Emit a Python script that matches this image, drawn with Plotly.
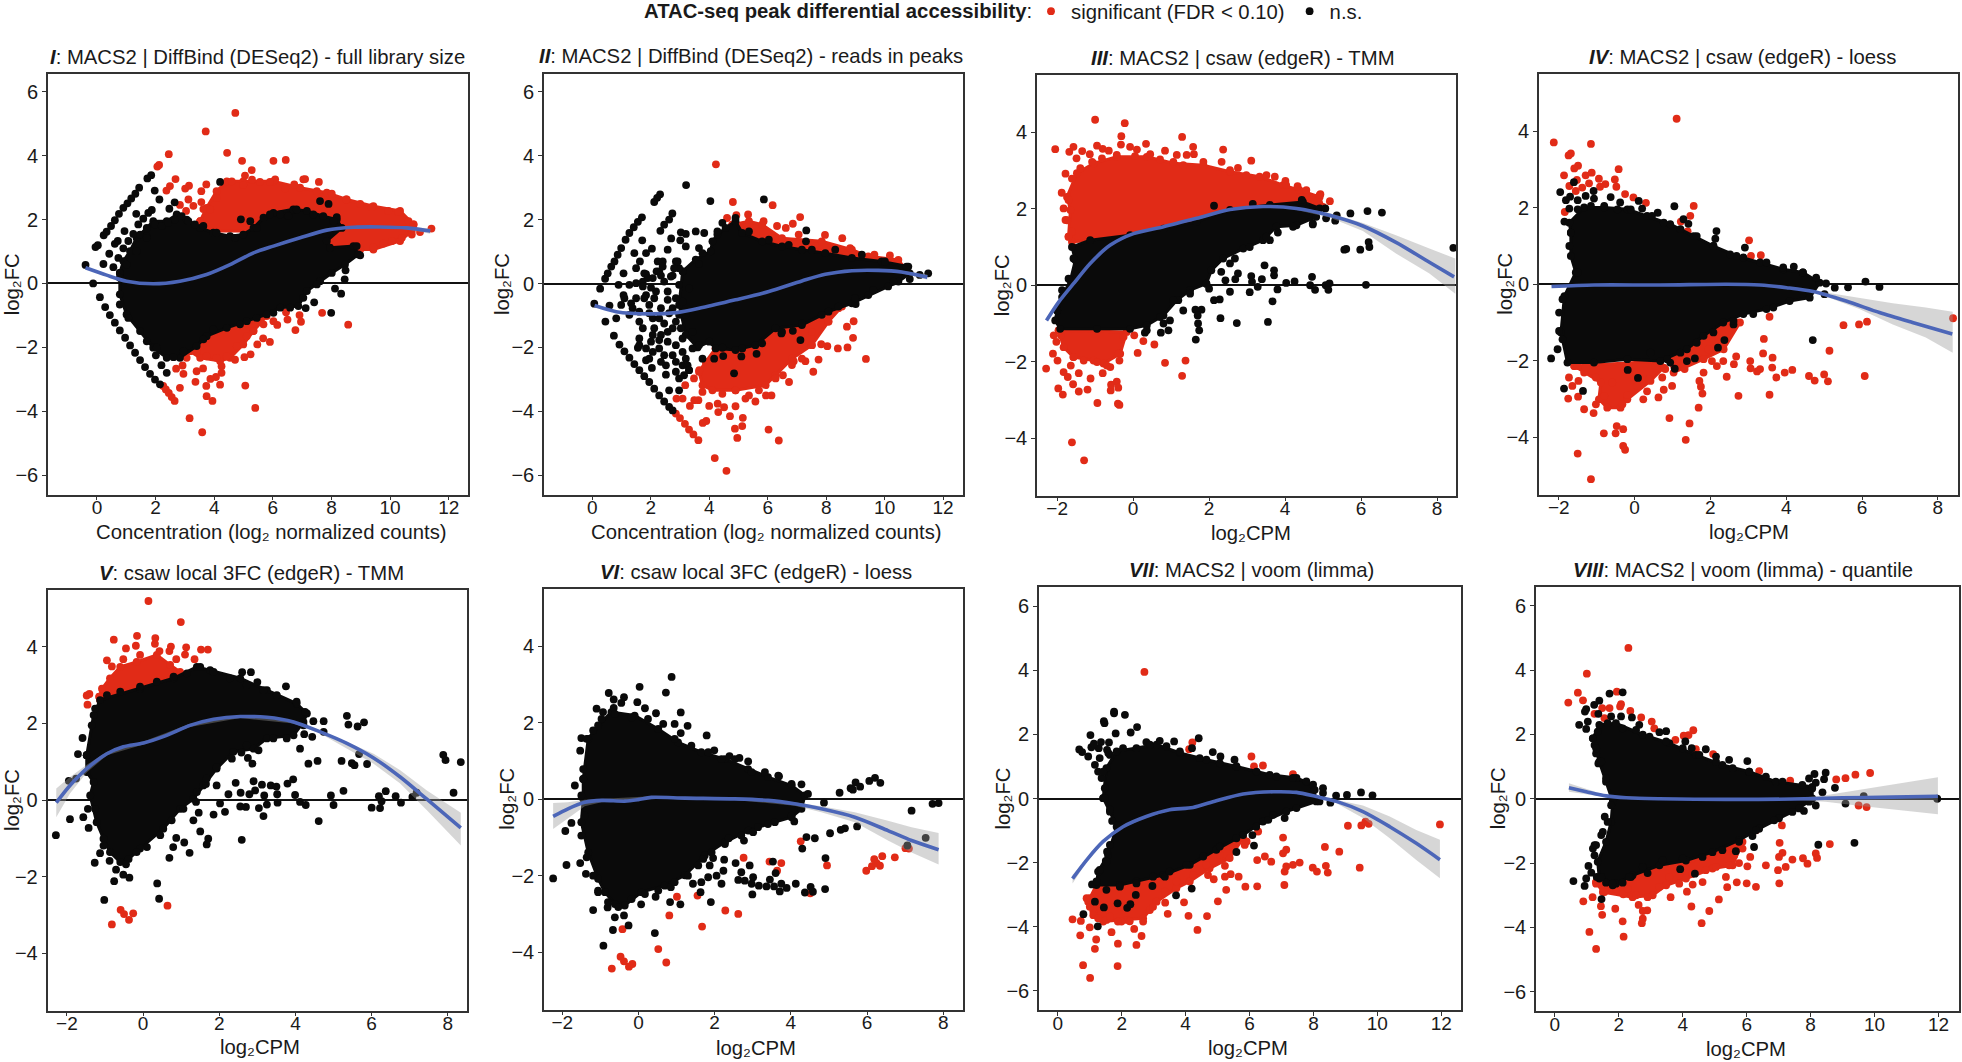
import plotly.graph_objects as go

RED = "#e12b17"
BLACK = "#0a0a0a"
BLUE = "#4c66b8"
DOT = 7.8

LEGEND_TITLE = "<b>ATAC-seq peak differential accessibility</b>:"
TITLES = ["<b><i>I</i></b>: MACS2 | DiffBind (DESeq2) - full library size",
          "<b><i>II</i></b>: MACS2 | DiffBind (DESeq2) - reads in peaks",
          "<b><i>III</i></b>: MACS2 | csaw (edgeR) - TMM",
          "<b><i>IV</i></b>: MACS2 | csaw (edgeR) - loess",
          "<b><i>V</i></b>: csaw local 3FC (edgeR) - TMM",
          "<b><i>VI</i></b>: csaw local 3FC (edgeR) - loess",
          "<b><i>VII</i></b>: MACS2 | voom (limma)",
          "<b><i>VIII</i></b>: MACS2 | voom (limma) - quantile"]
CONC = "Concentration (log₂ normalized counts)"
CPM = "log₂CPM"
YTITLE = "log₂FC"
XTITLES = [CONC, CONC, CPM, CPM, CPM, CPM, CPM, CPM]
X_TICKS_CONC = [0, 2, 4, 6, 8, 10, 12]
X_TICKS_CSAW = [-2, 0, 2, 4, 6, 8]
Y_TICKS_WIDE = [-6, -4, -2, 0, 2, 4, 6]
Y_TICKS_NARROW = [-4, -2, 0, 2, 4]
XRANGES = [(-1.67, 12.64), (-1.65, 12.68), (-2.53, 8.5), (-2.52, 8.53),
           (-2.51, 8.49), (-2.48, 8.52), (-0.59, 12.62), (-0.59, 12.64)]
YRANGES = [(-6.61, 6.56), (-6.6, 6.57), (-5.5, 5.5), (-5.5, 5.5),
           (-5.5, 5.5), (-5.5, 5.5), (-6.6, 6.6), (-6.6, 6.6)]
XTICKS = [X_TICKS_CONC, X_TICKS_CONC, X_TICKS_CSAW, X_TICKS_CSAW, X_TICKS_CSAW, X_TICKS_CSAW, X_TICKS_CONC, X_TICKS_CONC]
YTICKS = [Y_TICKS_WIDE, Y_TICKS_WIDE, Y_TICKS_NARROW, Y_TICKS_NARROW, Y_TICKS_NARROW, Y_TICKS_NARROW, Y_TICKS_WIDE, Y_TICKS_WIDE]

# ---------- Panel I ----------
P1_SIG = [(4.72,5.34),(3.71,4.76),(2.45,4.05),(4.44,4.09),(4.95,3.84),(6.02,3.84),(6.44,3.87),(2.12,3.71),(2.06,3.66),(5.28,3.55),(5.05,3.38),(2.68,3.27),(5.29,3.25),(6.08,3.26),(7.10,3.27),(7.57,3.18),(2.49,3.05),(2.37,2.91),(3.14,3.06),(3.01,2.97),(3.73,3.10),(3.56,2.89),(3.12,2.63),(3.56,2.55),(2.83,2.46),(3.29,2.43),(3.04,2.27),(3.63,2.33),
(8.57,-1.29),(7.68,-0.92),(6.91,-0.99),(6.45,-0.90),(6.96,-1.20),(6.50,-1.13),(6.77,-1.46),(6.15,-1.30),(5.90,-1.83),(5.67,-1.72),(5.47,-1.91),(5.24,-2.22),(5.03,-2.31),(4.71,-2.39),(3.06,-2.33),(2.92,-2.57),(2.70,-2.67),(2.95,-2.83),(3.40,-2.75),(3.62,-2.66),(4.25,-2.59),(4.25,-2.80),(4.06,-2.93),(3.87,-2.99),(3.36,-3.08),(4.20,-3.17),(3.73,-3.21),(5.06,-3.20),(2.83,-3.27),(3.74,-3.53),(3.94,-3.68),(5.40,-3.90),(3.16,-4.22),(3.59,-4.66),
(2.26,-3.21),(2.35,-3.32),(2.45,-3.43),(2.55,-3.56),(2.65,-3.68),
(11.41,1.72),(11.02,1.61),(10.74,1.53),(10.06,1.33),(9.77,1.25),
(4.60,3.20),(4.99,3.08),(5.56,3.18),(5.90,3.18),(6.42,2.97),(6.73,3.10),(7.04,3.26),(7.50,2.89),(8.01,2.81),(8.50,2.63),(8.98,2.49),(9.37,2.39),(9.94,2.27),(10.28,2.24),(10.63,1.95),(10.80,1.85),(10.40,1.43),(9.43,1.14),(4.08,2.68),(3.86,2.32),
(3.74,-2.28),(3.40,-2.12),(4.08,-2.33),(4.43,-2.28),(4.77,-1.96),(5.11,-1.65),(5.34,-1.49),(5.68,-1.28),(6.02,-1.18)]
P1_NS = [(-0.39,0.58),(-0.13,0.0),(-0.05,1.14),(0.03,1.20),(0.22,0.61),(0.23,1.51),(0.33,1.62),(0.42,0.93),(0.48,1.80),(0.61,1.98),(0.75,2.18),(0.90,2.37),(1.04,2.51),(1.17,2.66),(1.31,2.81),(1.44,3.00),(1.72,3.29),(1.85,3.39),(1.97,2.91),(2.13,2.63),(2.65,2.54),(4.20,3.18),(1.34,2.18),(0.94,1.64),(0.71,1.33),(0.61,1.24),
(0.56,0.51),(0.73,0.80),(0.90,1.10),(1.07,1.33),(1.24,1.55),(1.41,1.85),(1.58,2.03),(1.75,2.21),(1.87,2.30),
(0.10,-0.43),(0.28,-0.74),(0.44,-0.99),(0.61,-1.23),(0.78,-1.47),(0.96,-1.70),(1.13,-1.94),(1.30,-2.17),(1.47,-2.40),(1.64,-2.62),(1.81,-2.83),(1.98,-3.01),(2.15,-3.16),
(8.12,-0.16),(8.33,-0.32),(8.45,0.13),(8.48,0.41),(7.41,-0.59),(7.12,-0.77),(7.99,-0.92),(8.98,0.88),(8.86,1.17),(7.61,2.58),(7.90,2.49),(8.18,2.08),(4.91,2.01),(5.23,1.95),(2.38,-2.80),(2.20,-2.56),(2.01,-2.25),(2.47,2.34),
(1.47,1.53),(1.70,1.48),(1.98,1.85),(2.21,1.80),(2.43,1.90),(2.66,2.00),(2.89,2.11),(3.12,1.95),(3.34,1.85),(3.63,1.80),(4.08,1.59),(4.71,1.43),(5.45,1.74),(5.90,2.16),(6.25,2.16),(6.53,2.11),(6.81,2.32),(7.38,2.16),(8.07,1.95),
(1.70,-1.81),(2.04,-2.01),(2.61,-2.31),(2.95,-2.12),(3.63,-1.75),(3.97,-1.44),(4.88,-1.28),(5.45,-1.08),(6.02,-0.92),(6.59,-0.76),(7.04,-0.45),(7.50,-0.03),
(1.35,1.01),(1.01,0.59),(1.70,1.43),(0.78,0.18),(0.78,-0.66),(1.07,-1.08)]
P1_NS_CLOUD = [(0.78,0.33),(0.90,0.70),(1.13,1.01),(1.35,1.43),(1.70,1.74),(1.92,1.95),(2.38,1.95),(2.72,2.16),(3.06,2.00),(3.52,1.74),(3.97,1.59),(4.54,1.48),(4.99,1.53),(5.34,1.74),(5.68,2.06),(6.02,2.21),(6.70,2.32),(7.16,2.27),(7.72,2.11),(8.18,2.00),(8.35,1.74),(7.84,1.33),(7.95,1.12),(8.75,1.17),(8.92,0.91),(8.46,0.59),(8.01,0.33),(7.61,0.07),(7.16,-0.24),(6.87,-0.71),(6.25,-0.76),(5.79,-0.97),(5.11,-1.18),(4.43,-1.39),(3.74,-1.65),(3.40,-1.96),(2.83,-2.33),(2.38,-2.33),(1.92,-2.01),(1.47,-1.49),(1.01,-0.97),(0.78,-0.34)]
P1_SIG_CLOUDS = [[(3.52,1.95),(3.74,2.37),(4.08,2.89),(4.43,3.20),(4.99,3.20),(6.02,3.20),(6.93,3.00),(7.84,2.84),(8.52,2.63),(9.43,2.42),(10.34,2.27),(10.80,1.85),(10.74,1.64),(10.34,1.33),(9.43,1.06),(8.98,1.06),(7.16,1.22),(6.02,1.64),(3.52,1.64)],
 [(3.17,-2.12),(3.52,-1.60),(4.43,-1.39),(5.79,-1.02),(5.34,-1.49),(4.99,-1.91),(4.54,-2.33),(4.20,-2.43),(3.52,-2.33)]]
P1_FIT = [(-0.39,0.49),(0.33,0.26),(1.01,0.07),(1.92,-0.01),(2.83,0.07),(3.74,0.28),(4.54,0.59),(5.34,0.96),(6.02,1.17),(6.93,1.43),(7.84,1.67),(8.75,1.76),(9.66,1.77),(10.57,1.74),(11.37,1.64)]
P1_CI = [(9.66,1.74,1.80),(10.57,1.70,1.78),(11.37,1.56,1.72)]

# ---------- Panel II ----------
P2_SIG = [(4.23,3.73),(4.81,2.55),(6.17,2.45),(5.33,2.16),(4.93,2.14),(4.61,2.05),(7.11,2.08),(6.86,1.87),(6.62,1.74),(6.32,1.80),(5.86,1.95),(8.55,1.42),(7.96,1.52),(7.06,1.53),(9.65,0.90),(10.18,0.88),(8.82,1.11),(9.36,-2.36),(8.92,-1.70),(8.94,-1.18),(8.71,-1.35),(8.73,-2.00),(8.40,-2.03),(8.04,-1.96),(7.83,-1.90),(7.74,-2.38),(7.56,-2.76),(7.29,-2.43),(6.89,-2.43),(6.73,-3.08),(6.52,-2.87),(6.13,-3.50),(5.94,-3.50),(6.03,-4.57),(6.38,-4.91),(5.15,-4.20),(5.13,-4.46),(4.88,-4.54),(4.96,-4.83),(4.71,-4.15),(3.90,-4.30),(3.78,-4.36),(4.19,-5.46),(4.59,-5.86),(4.00,-3.83),(4.29,-3.76),(4.51,-3.87),(4.31,-4.02),(4.90,-3.84),(5.24,-3.60),(5.58,-3.69),(3.34,-3.83),(3.63,-3.65),(3.49,-3.65),(3.09,-3.60),(2.88,-3.60),(3.18,-3.18),(3.48,-2.97),(3.66,-2.71),
(2.86,-4.07),(3.00,-4.21),(3.17,-4.39),(3.31,-4.57),(3.46,-4.72),(3.63,-4.90),
(3.77,-3.39),(4.45,-3.45),(4.90,-3.34),(5.36,-3.50),(5.70,-3.34),(6.27,-2.97),(6.83,-2.55),(7.17,-2.35),(7.51,-1.93),(8.08,-1.19),(7.51,-1.51),(8.42,-0.77)]
P2_NS = [(0.07,-0.63),(0.27,-0.16),(3.21,3.08),(4.04,2.58),(5.87,2.63),(7.32,1.66),(7.31,1.32),(11.49,0.32),(11.20,0.27),(10.86,0.14),(9.01,-0.64),(7.12,-1.77),(6.47,-1.56),(6.86,-1.48),(4.17,-2.35),(4.48,-2.27),(5.10,-2.28),(4.85,-2.81),(5.62,-2.20),
(0.44,0.15),(0.53,0.32),(0.65,0.53),(0.76,0.69),(0.87,0.90),(0.99,1.11),(1.14,1.37),(1.27,1.58),(1.42,1.76),(1.56,1.93),(1.70,2.07),(2.12,2.55),(2.32,2.79),(2.22,2.68),(2.74,2.19),(2.63,2.00),(2.46,1.84),(2.33,1.65),
(1.71,1.35),(1.44,0.95),(2.04,1.09),(1.84,0.95),(1.63,0.69),(1.50,0.48),(1.07,0.32),(0.90,-0.04),(2.70,1.41),(3.03,1.60),(3.20,1.55),(3.54,1.63),(3.83,1.58),(3.01,1.35),(2.58,1.06),(3.20,1.16),(3.65,1.11),(3.77,0.95),(2.24,0.69),(2.41,0.69),(2.86,0.69),(2.97,0.48),(3.65,0.61),(2.29,0.38),(1.84,0.29),(2.75,0.25),
(0.45,-1.19),(0.59,-0.69),(0.74,-1.63),(0.82,-1.09),(0.93,-1.91),(1.10,-2.12),(1.27,-2.32),(1.44,-2.52),(1.61,-2.71),(1.78,-2.90),(1.95,-3.08),(2.12,-3.29),(2.29,-3.50),(2.46,-3.69),(2.63,-3.86),(2.75,-3.97),(2.63,-3.34),(2.97,-3.34),(2.52,-2.85),(3.31,-2.71),(2.97,-2.97),(2.04,-2.64),(1.84,-2.40),(1.56,-2.01),
(1.07,-0.36),(1.33,-0.62),(0.99,-0.67),(1.50,-0.46),(1.84,-0.36),(2.18,-0.25),(2.58,-0.25),(2.97,-0.04),(3.31,-0.15),(1.27,-0.98),(1.61,-1.19),(2.07,-1.09),(2.46,-1.25),(2.86,-1.19),(3.20,-0.98),(1.61,-1.72),(2.07,-1.61),(2.58,-1.51),(3.09,-1.72),(3.43,-2.03),(1.84,-2.03),(2.29,-2.03),(2.75,-2.24),(3.20,-2.35),(1.95,-2.35),(2.52,-2.56),(2.86,-2.76),(3.14,-2.87),(1.73,0.06),(2.07,0.17),(2.46,0.06),(1.95,-0.67),(2.35,-0.77),(2.75,-0.77),(3.09,-0.57),(3.43,-1.51),(3.65,-1.93),(3.77,-2.35),
(1.78,0.32),(1.90,0.17),(1.73,-0.09),(2.01,-0.13),(2.20,0.38),(2.41,0.53),(2.35,0.25),(2.80,0.48),(2.92,0.69),(2.69,0.22),(1.27,-0.04),(1.50,0.01),(1.10,-0.46),(1.38,-0.77),(1.78,-0.46),(2.12,-0.46),(2.58,-0.51),(2.86,-0.46),(1.61,-0.88),(1.95,-0.93),(2.29,-1.09),(2.63,-0.93),(2.97,-0.98),(1.73,-1.40),(2.12,-1.40),(2.35,-1.61),(2.75,-1.40),(3.03,-1.40),(1.61,-1.93),(2.01,-1.82),(2.29,-1.77),(2.58,-1.82),(2.86,-1.93),(3.09,-2.14),(2.07,-2.14),(2.46,-2.24),(2.86,-2.45),(2.35,-2.45),(3.09,-2.56),(3.26,-2.56),(3.31,-2.71),
(4.28,1.63),(4.45,1.90),(4.90,2.05),(5.36,1.63),(6.04,1.37),(6.72,1.21),(7.51,1.06),(8.31,1.06),(9.22,0.90),(10.01,0.69),(10.75,0.53),(10.30,0.06),(9.61,-0.20),(8.99,-0.46),(8.42,-0.72),(7.85,-0.98),(7.17,-1.25),(6.49,-1.51),(5.81,-1.87),(5.13,-2.03),(4.45,-2.01)]
P2_NS_CLOUD = [(3.09,0.38),(3.54,0.75),(4.05,1.01),(4.11,1.32),(4.28,1.53),(4.56,1.74),(4.90,1.95),(5.13,1.58),(5.81,1.32),(6.49,1.16),(7.17,1.06),(7.97,0.95),(8.88,0.80),(9.90,0.69),(10.81,0.53),(10.86,0.32),(10.47,0.06),(10.12,-0.09),(9.44,-0.36),(8.88,-0.62),(8.08,-0.88),(7.17,-1.30),(6.27,-1.40),(5.58,-1.93),(4.90,-2.08),(4.22,-2.03),(4.00,-1.82),(3.60,-2.00),(3.20,-1.60),(2.97,-0.67)]
P2_SIG_CLOUDS = [[(4.79,1.84),(5.36,1.95),(5.81,1.84),(6.49,1.42),(7.85,1.32),(8.88,1.06),(9.44,0.85),(10.47,0.74),(10.69,0.48),(8.31,0.38),(6.04,1.01)],
 [(4.22,-2.03),(5.58,-1.82),(6.27,-1.40),(7.17,-1.25),(8.54,-0.72),(8.08,-1.19),(7.51,-1.93),(6.83,-2.35),(6.27,-2.87),(5.93,-3.18),(4.90,-3.34),(4.11,-3.34),(3.77,-3.18),(3.65,-2.76),(3.88,-2.45)]]
P2_FIT = [(0.08,-0.69),(0.82,-0.88),(1.95,-0.95),(2.86,-0.91),(3.77,-0.75),(4.90,-0.51),(6.04,-0.25),(7.17,0.08),(7.97,0.29),(8.88,0.40),(9.78,0.41),(10.58,0.36),(11.46,0.20)]
P2_CI = [(9.78,0.38,0.44),(10.58,0.32,0.40),(11.46,0.12,0.28)]

# ---------- Panel III ----------
P3_SIG = [(-1.00,4.33),(-0.22,4.24),(-0.31,3.90),(-0.32,3.68),(-2.05,3.56),(-0.95,3.65),(-1.57,3.62),(-1.68,3.49),(-1.34,3.51),(-1.49,3.32),(-1.14,3.43),(-0.80,3.57),(-0.64,3.52),(-0.08,3.62),(0.10,3.55),(0.34,3.70),(1.29,3.88),(0.84,3.52),(1.15,3.41),(1.41,3.41),(1.58,3.62),(1.60,3.43),(2.37,3.55),(3.11,3.26),(2.76,3.07),(3.73,2.84),(4.01,2.73),(4.33,2.59),(4.93,2.38),(5.18,2.20),(-1.78,2.92),(-1.88,2.42),(-1.78,1.71),
(-2.29,-2.18),(-2.09,-1.31),(-1.90,-1.31),(-2.02,-1.48),(-2.11,-1.79),(-1.99,-1.97),(-1.83,-2.27),(-1.72,-2.40),(-1.97,-2.70),(-1.85,-2.86),(-1.58,-2.59),(-1.43,-2.78),(-1.20,-2.73),(-1.12,-2.44),(-1.43,-2.30),(-1.64,-2.10),(-0.94,-3.08),(-0.40,-3.10),(-0.36,-3.13),(-0.59,-2.75),(-0.58,-2.60),(-0.43,-2.52),(-0.39,-2.68),(-1.61,-4.11),(-1.29,-4.58),(-0.80,-2.30),(-0.60,-2.14),(-0.36,-1.97),(0.03,-1.31),(0.27,-1.46),(0.56,-1.55),(0.12,-1.77),(0.84,-2.03),(1.38,-1.97),(1.29,-2.37),
(-1.61,2.79),(-1.39,3.06),(-1.08,3.23),(-0.82,3.32),(-0.43,3.41),(0.05,3.38),(0.45,3.43),(0.71,3.29),(1.06,3.23),(1.32,3.14),(1.85,3.23),(2.33,3.23),(2.55,3.01),(2.98,2.88),(3.51,2.88),(4.03,2.62),(4.56,2.49),(4.91,2.36),(-1.70,2.23),(-1.83,2.01),(-1.74,1.70),(-1.61,1.40),
(-1.57,-1.88),(-1.30,-1.97),(-0.95,-2.01),(-0.69,-2.10),(-0.38,-1.79),(-0.25,-1.35)]
P3_NS = [(8.43,0.98),(6.55,1.90),(6.17,1.94),(5.72,1.88),(5.36,1.83),(5.32,1.69),(5.06,2.01),(4.44,2.23),(2.13,2.08),(3.15,2.13),(5.56,0.93),(5.61,0.95),(5.98,0.93),(6.20,1.13),(6.22,1.00),(6.13,0.01),(4.71,0.22),(4.66,0.00),(4.79,-0.12),(5.07,0.00),(5.17,0.05),(5.14,-0.12),(4.25,0.10),(4.03,0.06),(3.80,-0.11),(3.71,0.39),(3.71,0.26),(3.46,0.52),(3.11,0.24),(3.13,0.09),(3.39,0.16),(2.76,0.31),(2.69,0.16),(2.43,0.13),(2.32,0.35),(3.28,-0.04),(3.07,-0.18),(2.55,-0.17),(3.67,-0.42),(2.30,-0.86),(2.73,-0.99),(3.55,-0.96),(1.65,-1.42),(1.74,-1.18),(1.71,-1.00),(1.80,-0.64),(1.64,-0.64),(1.70,-0.79),(1.32,-0.66),(1.19,-0.39),(0.97,-0.92),(0.93,-1.18),(0.73,-1.24),(0.80,-1.00),(0.31,-1.24),(2.13,-0.39),(2.28,-0.37),(2.00,-0.09),(3.60,1.18),(3.81,1.38),(2.68,0.70),(4.73,1.59),(5.08,1.75),
(0.36,-1.18),(0.71,-0.83),(1.06,-0.39),(1.50,-0.22),(1.93,0.04),(2.55,0.57),(3.07,1.00),(3.51,1.27),(4.21,1.53),(4.73,1.62),(-1.57,0.70),(-1.70,0.17),(-1.87,-0.13)]
P3_NS_CLOUD = [(-2.00,-0.66),(-1.87,-0.31),(-1.65,0.13),(-1.52,0.66),(-1.61,1.00),(-1.13,1.18),(-0.08,1.31),(0.80,1.48),(1.67,1.66),(2.55,1.97),(3.60,2.10),(4.47,2.18),(4.91,2.01),(4.82,1.79),(4.30,1.57),(3.77,1.53),(3.42,1.18),(2.90,0.96),(2.37,0.70),(2.06,0.39),(1.93,0.04),(1.50,-0.13),(1.15,-0.39),(0.80,-0.79),(0.36,-1.05),(-0.08,-1.14),(-0.95,-1.14),(-1.92,-1.14),(-2.05,-0.92)]
P3_SIG_CLOUDS = [[(-1.70,1.27),(-1.65,1.97),(-1.74,2.31),(-1.48,2.93),(-1.04,3.19),(-0.43,3.36),(0.36,3.36),(1.06,3.19),(1.85,3.14),(2.55,2.97),(3.33,2.84),(3.95,2.62),(4.38,2.49),(4.91,2.31),(5.00,2.05),(3.60,2.01),(2.55,1.88),(1.67,1.62),(0.80,1.44),(-0.08,1.27),(-0.95,1.18),(-1.61,1.14)],
 [(-1.96,-1.18),(-0.17,-1.22),(-0.34,-1.79),(-0.78,-2.05),(-1.04,-1.97),(-1.57,-1.88),(-1.83,-1.62)]]
P3_FIT = [(-2.28,-0.92),(-1.96,-0.44),(-1.57,0.04),(-1.13,0.57),(-0.60,1.05),(0.01,1.35),(0.80,1.53),(1.67,1.75),(2.55,1.98),(3.42,2.06),(4.30,2.01),(5.17,1.83),(6.05,1.55),(6.92,1.12),(7.80,0.60),(8.45,0.22)]
P3_CI = [(4.30,1.97,2.05),(5.17,1.77,1.89),(6.05,1.42,1.63),(6.92,0.83,1.31),(7.80,0.31,0.96),(8.48,-0.22,0.70)]

# ---------- Panel IV ----------
P4_SIG = [(1.11,4.33),(-2.13,3.71),(-1.15,3.67),(-1.74,3.37),(-1.68,3.42),(-1.49,3.10),(-1.59,3.03),(-0.42,3.01),(-1.86,2.85),(-1.29,2.85),(-1.13,2.92),(-0.52,2.74),(-0.94,2.76),(-0.77,2.62),(-0.48,2.55),(-1.52,2.73),(-1.72,2.57),(-1.55,2.44),(-1.38,2.53),(-1.20,2.64),(-0.91,2.55),(-1.84,1.89),(-0.25,2.36),(-0.03,2.27),(0.30,2.13),(1.56,2.05),(1.47,1.79),(1.22,1.64),(1.40,1.38),(3.02,1.15),(3.33,0.76),(3.07,0.74),
(8.40,-0.89),(6.13,-0.98),(5.92,-1.05),(5.51,-1.07),(5.14,-1.74),(6.07,-2.40),(5.00,-2.36),(5.10,-2.54),(4.75,-2.52),(4.60,-2.40),(3.56,-2.89),(2.74,-2.92),(4.16,-2.24),(3.96,-2.31),(3.74,-2.44),(3.63,-2.18),(3.64,-1.92),(3.39,-1.81),(3.41,-1.43),(3.56,-0.85),(3.31,-2.22),(3.06,-2.20),(3.05,-2.01),(3.23,-2.28),(2.68,-1.89),(2.62,-2.09),(2.43,-2.42),(2.34,-2.01),(2.17,-2.14),(1.82,-2.31),(1.71,-2.53),(1.75,-2.68),(1.79,-2.86),(1.69,-3.23),(1.45,-3.64),(1.35,-4.07),(0.92,-3.50),(0.99,-2.66),(0.77,-2.76),(0.63,-2.96),(0.23,-3.01),(0.33,-2.80),(0.73,-2.44),(1.32,-2.22),(-1.50,-4.43),(-1.15,-5.10),(-0.81,-3.90),(-0.50,-3.90),(-0.47,-3.71),(-0.30,-3.79),(-0.30,-4.23),(-0.25,-4.33),(-1.08,-3.37),(-1.33,-3.27),(-1.75,-2.99),(-1.49,-2.94),(-1.64,-2.66),(-1.73,-2.44),(-1.48,-2.53),(-1.02,-3.14),
(-1.50,-2.14),(-1.29,-2.18),(-1.02,-2.44),(-0.80,-2.92),(-0.59,-2.57),(-0.32,-3.14),(-0.19,-2.90),(0.07,-2.66),(0.38,-2.48),(0.55,-2.14),(0.81,-2.22),(1.12,-2.00),(1.95,-1.70),(2.21,-1.53),(2.04,-2.01),(2.69,-1.00)]
P4_NS = [(-2.20,-1.94),(-1.86,-2.73),(-1.36,-2.79),(0.09,-2.45),(-0.18,-2.24),(4.70,-1.46),(2.37,-1.46),(2.20,-1.66),(1.59,-1.94),(1.38,-2.01),(1.06,-2.21),(0.94,-2.05),(2.61,-1.05),(6.46,-0.07),(6.09,0.07),(5.63,-0.08),(5.28,-0.09),(5.05,0.02),(5.01,-0.26),(4.79,0.17),(4.20,0.46),(2.91,0.96),(2.16,1.39),(2.13,1.19),(1.05,2.04),(1.29,1.70),(1.42,1.58),(0.61,1.87),(0.11,2.18),(0.20,1.98),(-0.63,2.28),(-0.38,2.14),(-1.08,2.44),(-1.07,2.24),(-1.29,2.31),(-1.50,2.20),(-1.60,2.67),(-1.96,2.41),(-1.70,2.29),(-1.81,2.20),(-1.72,1.98),(-1.85,1.64),(-1.99,-1.22),(-2.03,-1.70),
(-1.50,1.96),(-1.15,2.05),(-0.80,2.05),(-0.45,1.96),(-0.10,1.96),(0.46,1.79),(0.77,1.61),(1.21,1.44),(1.64,1.26),(2.08,1.00),(2.52,0.78),(2.87,0.70),(3.48,0.57),(3.92,0.44),(4.44,0.31),(3.66,-0.61),(3.13,-0.78),(2.61,-0.96),(2.08,-1.26),(1.64,-1.53),(1.21,-1.79),(0.86,-1.96),(0.42,-1.79),(-1.72,1.00),(-1.50,0.31),(-1.90,-0.39),(-1.99,-0.74),(-1.90,-1.44)]
P4_NS_CLOUD = [(-1.68,1.35),(-1.72,1.61),(-1.33,2.01),(-0.80,2.01),(-0.19,1.96),(0.33,1.79),(0.94,1.57),(1.56,1.26),(2.08,1.00),(2.69,0.74),(3.31,0.57),(3.92,0.39),(4.44,0.31),(4.88,0.04),(4.62,-0.35),(4.09,-0.44),(3.48,-0.65),(2.87,-0.78),(2.34,-1.00),(1.82,-1.35),(1.38,-1.70),(0.68,-2.01),(-0.19,-1.96),(-1.07,-2.05),(-1.77,-2.05),(-1.94,-1.26),(-1.85,-0.31),(-1.55,0.31),(-1.68,0.74)]
P4_SIG_CLOUDS = [[(-1.59,-2.14),(0.68,-2.01),(0.77,-2.18),(0.42,-2.53),(-0.19,-3.01),(-0.37,-3.23),(-0.72,-3.23),(-0.94,-3.01),(-0.89,-2.57),(-1.33,-2.31)],
 [(0.86,-1.79),(1.64,-1.35),(2.43,-1.00),(2.78,-1.00),(2.35,-1.70),(1.82,-1.96),(1.03,-2.31)]]
P4_FIT = [(-2.19,-0.06),(-1.07,-0.02),(0.68,-0.02),(2.43,0.0),(3.31,-0.02),(4.01,-0.09),(4.71,-0.19),(5.58,-0.44),(6.46,-0.74),(7.33,-1.00),(8.38,-1.30)]
P4_CI = [(4.88,-0.26,-0.19),(5.93,-0.65,-0.35),(6.81,-1.05,-0.50),(7.68,-1.39,-0.61),(8.39,-1.79,-0.72)]

# ---------- Panel V ----------
P5_SIG = [(0.14,5.20),(0.99,4.65),(-0.77,4.19),(-0.16,4.29),(0.32,4.23),(0.31,4.08),(-0.19,4.03),(-0.45,3.96),(0.73,4.01),(0.69,3.89),(1.13,3.99),(1.70,3.93),(1.52,3.93),(1.10,3.80),(-0.95,3.65),(1.35,3.68),(0.87,3.68),(-1.41,2.77),(-1.48,2.73),(-1.46,2.49),(0.43,3.89),(-0.08,3.79),(-0.52,3.68),(-0.82,3.49),(0.64,-2.76),(-0.59,-2.87),(-0.50,-2.98),(-0.26,-2.96),(-0.37,-3.13),(-0.82,-3.25)]
P5_NS = [(-2.29,-0.92),(-1.92,-0.50),(-1.57,-0.45),(-1.43,-0.73),(-1.45,-0.23),(-1.95,0.50),(-1.76,0.56),(-1.71,1.20),(-1.59,1.62),(-1.27,-1.64),(-1.13,-1.39),(-0.88,-1.59),(-0.76,-2.12),(-0.71,-1.82),(-0.52,-1.95),(-0.36,-2.03),(-0.45,-1.68),(-1.02,-2.61),(0.37,-2.18),(0.42,-2.58),(0.69,-1.51),(0.79,-1.23),(1.22,-1.38),(1.08,-1.11),(0.87,-0.99),(1.67,-1.16),(1.71,-1.01),(1.50,-0.82),(2.59,-1.04),(3.16,-0.42),(4.61,-0.55),(1.85,-0.38),(2.15,-0.31),(1.46,-0.33),(1.32,-0.53),(2.55,-0.17),(2.70,-0.18),(2.02,-0.09),(1.39,-0.05),(3.04,-0.21),(3.25,-0.12),(3.53,-0.07),(4.12,-0.05),(4.27,-0.13),(5.00,-0.13),(4.93,0.12),(5.26,0.24),(3.99,0.13),(3.52,0.15),(3.18,0.12),(2.94,0.25),(2.79,0.15),(2.56,0.19),(2.24,0.15),(1.93,0.38),(1.65,0.42),(2.43,0.45),(2.90,0.49),(3.12,0.40),(3.35,0.38),(3.50,0.35),(3.79,0.43),(3.94,0.54),(6.00,-0.20),(6.22,-0.21),(6.26,-0.03),(6.19,0.10),(6.37,0.23),(6.63,0.10),(6.77,-0.07),(7.07,0.08),(7.18,0.19),(8.15,0.19),(7.88,1.18),(7.94,1.04),(8.34,0.99),(5.21,1.02),(5.48,0.96),(5.55,0.91),(5.88,0.94),(5.67,1.20),(4.34,0.95),(4.58,1.02),(4.12,1.34),(4.23,1.72),(4.44,1.65),(4.47,2.06),(4.74,2.06),(4.74,1.78),(5.35,2.20),(5.39,1.97),(5.63,1.92),(5.80,2.03),(3.75,2.97),(2.60,3.34),(2.83,3.34),(3.00,3.08),(2.87,0.95),(2.75,1.10),(3.03,1.30),(2.58,1.24),
(-0.95,2.74),(-0.60,2.83),(-0.08,2.96),(0.36,3.09),(0.80,3.22),(1.15,3.31),(1.50,3.48),(1.85,3.35),(2.28,3.18),(2.72,3.00),(3.16,2.87),(3.51,2.74),(4.03,2.57),(4.25,2.30),(4.21,1.95),(3.77,1.61),(3.42,1.61),(2.72,1.43),(2.33,1.08),(1.93,0.86),(1.67,0.56),(1.41,0.21),(1.06,-0.23),(0.75,-0.53),(0.45,-0.92),(0.10,-1.23),(-0.17,-1.36),(-1.04,-1.19),(-1.26,-0.23),(-1.48,1.17),(-1.35,1.95),(-1.26,2.39)]
P5_NS_CLOUD = [(-1.48,1.17),(-1.30,2.22),(-1.13,2.61),(-0.08,2.91),(0.80,3.18),(1.41,3.48),(1.76,3.39),(2.55,3.18),(3.25,2.87),(4.03,2.52),(4.30,2.26),(4.21,2.04),(3.95,1.69),(3.25,1.61),(2.90,1.34),(2.37,1.26),(1.93,0.82),(1.58,0.38),(1.32,0.03),(0.97,-0.23),(0.53,-0.75),(-0.08,-1.27),(-0.38,-1.54),(-0.60,-1.62),(-0.87,-1.36),(-1.04,-1.01),(-1.22,-0.58),(-1.39,0.12),(-1.30,0.47),(-1.48,0.73)]
P5_SIG_CLOUDS = [[(-1.15,2.70),(-1.08,2.91),(-0.87,3.18),(-0.60,3.48),(-0.17,3.61),(0.36,3.79),(0.71,3.53),(0.97,3.35),(0.80,3.22),(-0.08,2.91),(-1.13,2.61)]]
P5_FIT = [(-2.28,-0.07),(-1.92,0.38),(-1.48,0.82),(-0.95,1.21),(-0.52,1.39),(0.01,1.49),(0.62,1.69),(1.23,1.95),(1.85,2.11),(2.55,2.18),(3.25,2.16),(3.95,2.04),(4.65,1.78),(5.35,1.48),(6.05,1.10),(6.75,0.60),(7.45,0.02),(8.34,-0.73)]
P5_CI = [(-2.28,-0.45,0.30),(-1.92,0.17,0.60),(-1.48,0.72,0.92),(-0.95,1.17,1.26),(0.01,1.45,1.53),(1.23,1.91,1.99),(2.55,2.14,2.22),(3.95,2.00,2.08),(4.65,1.74,1.82),(6.05,0.95,1.21),(6.75,0.43,0.78),(7.45,-0.27,0.25),(8.34,-1.19,-0.33)]

# ---------- Panel VI ----------
P6_SIG = [(-0.70,-4.43),(-0.47,-4.12),(-0.38,-4.24),(-0.25,-4.38),(-0.16,-4.31),(0.52,-3.92),(0.73,-4.27),(-0.42,-3.40),(0.81,-3.04),(1.67,-3.33),(1.01,-2.55),(1.55,-2.52),(2.28,-2.91),(2.62,-3.00),(2.76,-1.53),(3.44,-1.63),(3.75,-1.67),(3.64,-1.87),(4.26,-1.10),(4.95,-1.73),(4.51,-2.46),(5.98,-1.87),(6.13,-1.75),(6.19,-1.57),(6.25,-1.67),(6.34,-1.74),(6.40,-1.49),(6.73,-1.52),(7.10,-1.29),(7.01,-1.28)]
P6_NS = [(-2.24,-2.07),(-1.89,-1.72),(-1.92,-0.83),(-1.76,-0.62),(-1.67,0.36),(-1.53,1.27),(-1.50,1.60),(-1.53,-1.67),(-1.38,-1.95),(-1.19,-2.90),(-1.06,-2.43),(-0.81,-2.83),(-0.92,-3.83),(-0.67,-3.42),(-0.62,-3.09),(-0.38,-3.04),(-0.26,-3.30),(0.43,-3.50),(0.07,-2.75),(0.45,-2.55),(0.83,-2.69),(1.10,-2.75),(1.90,-2.69),(-0.78,2.78),(-0.65,2.61),(-0.38,2.67),(0.03,2.94),(0.87,3.20),(0.72,2.79),(-0.45,2.52),(-0.65,2.39),(-0.03,2.54),(0.17,2.38),(-1.10,2.37),(-0.93,2.28),(0.46,2.25),(1.11,2.27),(1.29,1.92),(1.11,1.73),(1.79,1.67),(1.99,1.28),(0.95,1.97),(2.39,1.13),(2.65,1.08),(2.88,0.99),(3.69,0.60),(4.28,0.39),(4.45,0.14),(4.87,-0.09),(5.28,0.17),(5.57,0.29),(5.70,0.44),(5.63,0.25),(5.82,0.33),(6.06,0.48),(6.21,0.56),(6.35,0.43),(7.17,-0.30),(7.72,-0.12),(7.88,-0.10),(7.54,-1.01),(7.06,-1.21),(5.74,-0.71),(5.42,-0.76),(5.31,-0.80),(5.03,-0.89),(4.63,-1.02),(4.41,-0.99),(4.30,-1.29),(4.91,-1.54),(4.09,-0.58),(3.01,-0.86),(2.77,-1.08),(2.37,-1.02),(1.96,-1.54),(2.25,-1.58),(2.23,-1.87),(2.55,-1.67),(2.92,-1.73),(2.70,-1.91),(2.62,-2.11),(2.79,-2.13),(2.99,-2.49),(3.01,-2.04),(2.97,-2.21),(3.16,-2.26),(3.36,-2.28),(3.45,-2.10),(3.60,-1.93),(3.53,-1.63),(3.56,-2.28),(3.71,-2.41),(3.75,-2.21),(3.89,-2.32),(4.13,-2.21),(4.37,-2.44),(4.52,-2.29),(4.58,-2.42),(4.90,-2.35),(2.18,-2.21),(2.05,-2.00),(1.87,-1.73),(1.70,-1.56),(1.83,-2.04),(1.43,-2.21),(1.63,-2.43),(1.65,-2.17),(0.85,-2.30),
(-1.36,1.58),(-1.19,1.80),(-0.97,2.10),(-0.62,2.23),(-0.18,2.14),(0.25,2.10),(0.65,1.97),(0.95,1.58),(1.39,1.40),(1.83,1.23),(2.18,1.05),(2.53,1.05),(2.97,0.71),(3.32,0.71),(3.67,0.62),(4.02,0.40),(4.02,-0.43),(3.58,-0.60),(3.14,-0.73),(2.70,-0.95),(2.27,-1.17),(1.92,-1.39),(1.57,-1.73),(1.30,-2.00),(0.95,-2.17),(0.52,-2.39),(0.17,-2.48),(-0.18,-2.61),(-0.53,-2.82),(-0.80,-2.69),(-1.06,-2.39),(-1.19,-2.00),(-1.36,-1.52),(-1.50,-0.95),(-1.41,-0.43),(-1.50,0.10),(-1.45,0.79)]
P6_NS_CLOUD = [(-1.45,0.53),(-1.32,1.58),(-1.06,1.93),(-0.71,2.28),(-0.10,2.19),(0.52,1.84),(1.04,1.49),(1.65,1.23),(2.27,1.05),(2.88,0.79),(3.40,0.58),(4.02,0.36),(4.37,0.10),(4.28,-0.25),(4.02,-0.47),(3.40,-0.65),(2.88,-0.82),(2.27,-1.12),(1.74,-1.47),(1.22,-1.99),(0.69,-2.26),(0.08,-2.43),(-0.36,-2.78),(-0.62,-2.74),(-0.88,-2.43),(-1.06,-2.08),(-1.32,-1.39),(-1.50,-0.60),(-1.45,0.01)]
P6_SIG_CLOUDS = []
P6_FIT = [(-2.24,-0.45),(-1.85,-0.25),(-1.41,-0.08),(-0.97,-0.03),(-0.36,-0.05),(-0.01,-0.01),(0.34,0.05),(1.22,0.03),(2.53,0.01),(3.40,-0.03),(4.10,-0.12),(4.80,-0.25),(5.68,-0.47),(6.55,-0.82),(7.17,-1.08),(7.88,-1.32)]
P6_CI = [(-2.24,-0.78,-0.10),(-1.85,-0.51,-0.08),(-1.41,-0.18,-0.01),(-0.97,-0.08,0.01),(0.34,0.02,0.08),(2.53,-0.02,0.04),(4.10,-0.17,-0.08),(4.80,-0.34,-0.18),(5.68,-0.60,-0.34),(6.55,-1.08,-0.56),(7.17,-1.39,-0.73),(7.88,-1.71,-0.88)]

# ---------- Panel VII ----------
P7_SIG = [(2.71,3.95),(11.96,-0.81),(9.08,-0.85),(9.50,-0.84),(9.73,-0.79),(9.63,-0.72),(8.36,-1.51),(8.81,-1.66),(9.45,-2.16),(8.39,-2.10),(8.45,-2.31),(7.98,-2.16),(8.11,-2.28),(7.57,-2.00),(7.36,-2.07),(7.10,-2.28),(7.15,-2.12),(7.09,-2.70),(7.05,-1.22),(7.15,-1.60),(7.05,-1.71),(6.68,-1.97),(6.48,-1.81),(6.24,-1.92),(6.24,-2.74),(5.87,-2.75),(5.66,-2.44),(5.41,-2.36),(5.23,-2.44),(5.23,-2.10),(4.88,-2.52),(4.70,-2.39),(5.27,-2.85),(5.01,-3.21),(4.67,-3.67),(4.37,-4.10),(4.09,-3.66),(3.44,-3.60),(3.95,-3.24),(3.36,-3.25),(2.46,-4.57),(1.88,-4.53),(1.87,-5.23),(1.16,-4.69),(1.20,-4.40),(0.70,-4.27),(0.79,-5.20),(1.01,-5.60),(0.46,-3.77),(0.72,-3.82),(1.00,-4.02),(1.68,-4.17),(2.62,-4.29),(2.39,-4.07),(2.67,-3.84),(0.95,-3.22),(1.11,-3.64),(1.52,-3.79),(1.99,-3.84),(2.88,-3.48),(6.06,1.31),(6.42,1.03),(6.14,1.00),(7.36,0.76),(4.21,1.75),(4.11,1.54),(6.27,-1.03),(5.85,-1.45),
(0.90,-3.11),(1.00,-3.38),(1.26,-3.74),(1.63,-3.69),(1.88,-3.84),(2.25,-3.83),(2.98,-3.38),(3.35,-2.91),(3.71,-2.59),(4.23,-2.39),(4.65,-2.07),(5.07,-1.76),(5.49,-1.55),(5.91,-1.34)]
P7_NS = [(1.76,2.71),(1.76,2.66),(2.10,2.61),(1.44,2.41),(1.46,2.35),(2.48,2.23),(2.28,2.06),(1.81,2.03),(1.02,1.98),(0.67,1.53),(0.76,1.45),(0.95,1.31),(1.05,1.60),(1.28,1.57),(1.13,1.71),(1.35,1.76),(1.60,1.75),(1.54,1.52),(1.16,1.05),(1.26,0.84),(1.37,0.64),(1.31,1.26),(1.47,0.01),(1.63,-0.35),(1.70,-0.70),(1.89,-0.82),(1.54,-1.66),(1.50,-1.95),(1.31,-2.23),(1.07,-2.68),(1.16,-3.22),(1.44,-3.40),(0.80,-3.61),(1.25,-3.99),(1.87,-3.27),(2.17,-3.41),(2.27,-3.30),(2.44,-3.01),(2.96,-2.73),(3.35,-2.44),(3.70,-3.02),(4.19,-2.81),(5.59,-1.67),(6.14,-1.47),(6.09,-1.14),(6.59,-0.67),(7.10,-0.61),(8.30,0.32),(8.30,0.17),(8.53,-0.13),(8.71,0.09),(9.05,0.11),(9.49,0.19),(9.85,0.10),(4.41,1.88),(4.20,1.57),(3.64,1.78),(3.19,1.80),(4.85,1.45),(5.09,1.31),(5.53,1.21),(2.77,1.76),
(1.63,1.36),(2.04,1.57),(2.46,1.57),(2.88,1.68),(3.40,1.63),(3.82,1.47),(4.44,1.26),(5.07,1.10),(5.59,1.00),(6.22,0.84),(6.84,0.69),(7.36,0.64),(7.78,0.53),(8.04,0.27),(8.19,-0.09),(7.47,-0.30),(6.74,-0.51),(6.21,-0.88),(5.59,-1.24),(5.07,-1.50),(4.55,-1.81),(4.03,-2.07),(3.50,-2.28),(2.98,-2.44),(2.46,-2.65),(1.94,-2.75),(1.52,-2.85),(1.21,-2.59),(1.52,-1.97),(1.63,-1.45),(1.47,0.32),(1.42,0.84),(1.58,1.42)]
P7_NS_CLOUD = [(1.42,0.01),(1.52,0.95),(1.84,1.47),(3.09,1.68),(3.82,1.42),(4.65,1.21),(5.59,1.00),(6.63,0.74),(7.47,0.64),(7.99,0.43),(8.09,-0.09),(7.15,-0.41),(6.42,-0.72),(5.80,-1.14),(4.96,-1.60),(4.13,-2.07),(3.30,-2.39),(2.46,-2.59),(1.94,-2.70),(1.21,-2.70),(1.26,-2.28),(1.57,-1.76),(1.84,-0.88),(1.63,-0.41)]
P7_SIG_CLOUDS = [[(1.21,-2.70),(1.73,-2.59),(2.57,-2.49),(3.30,-2.18),(4.34,-1.86),(5.28,-1.34),(5.80,-1.24),(5.38,-1.86),(4.75,-2.18),(4.13,-2.59),(3.71,-2.80),(3.09,-3.22),(2.67,-3.74),(2.15,-3.79),(1.42,-3.84),(1.11,-3.53),(1.00,-3.11)]]
P7_FIT = [(0.46,-2.50),(0.90,-1.92),(1.42,-1.34),(2.04,-0.88),(2.77,-0.56),(3.50,-0.35),(4.23,-0.28),(4.96,-0.07),(5.80,0.14),(6.74,0.21),(7.47,0.19),(8.09,0.06),(8.72,-0.09),(9.55,-0.41),(10.39,-0.88),(11.22,-1.40),(11.96,-1.91)]
P7_CI = [(0.46,-2.65,-2.39),(0.90,-1.98,-1.87),(1.42,-1.38,-1.31),(2.04,-0.91,-0.85),(2.77,-0.59,-0.53),(3.50,-0.38,-0.32),(4.23,-0.31,-0.25),(4.96,-0.10,-0.04),(5.80,0.11,0.17),(6.74,0.18,0.24),(7.47,0.16,0.22),(8.09,0.03,0.09),(8.72,-0.15,-0.04),(9.55,-0.61,-0.22),(10.39,-1.24,-0.56),(11.22,-1.92,-0.98),(11.96,-2.49,-1.29)]

# ---------- Panel VIII ----------
P8_SIG = [(2.30,4.69),(1.00,3.89),(0.72,3.30),(0.42,2.99),(0.88,3.06),(1.94,3.33),(2.07,2.94),(2.04,2.87),(1.48,2.82),(1.71,2.82),(2.36,2.73),(1.24,2.64),(1.55,2.51),(2.70,2.53),(3.03,2.40),(3.11,2.19),(4.33,2.13),(4.18,1.98),(4.03,1.96),(3.77,1.83),(4.41,1.54),(4.95,1.39),(6.39,0.86),(7.36,0.56),(8.80,0.60),(9.09,0.64),(9.40,0.75),(9.86,0.80),(9.50,-0.21),(9.75,-0.26),(8.60,-1.41),(7.10,-0.83),(7.03,-1.37),(7.43,-1.89),(7.76,-1.85),(7.90,-2.02),(8.16,-1.70),(8.20,-1.84),(7.12,-1.68),(7.01,-1.81),(6.98,-2.22),(7.02,-2.63),(7.22,-2.12),(6.60,-2.07),(6.29,-2.74),(6.00,-2.63),(5.69,-2.60),(5.39,-2.75),(5.35,-2.43),(6.11,-1.81),(6.02,-2.10),(5.76,-2.00),(5.13,-3.13),(4.83,-3.49),(4.59,-3.87),(4.27,-3.35),(4.13,-2.89),(4.31,-2.67),(4.62,-2.59),(3.62,-3.06),(2.89,-3.47),(2.75,-3.49),(2.62,-3.30),(2.72,-3.87),(2.75,-3.73),(2.12,-3.81),(2.15,-4.29),(1.08,-4.14),(1.29,-4.67),(1.48,-3.61),(1.44,-3.34),(1.89,-3.42),(0.89,-3.19),(1.18,-3.06),(2.14,-2.97),
(1.29,-2.64),(1.55,-2.90),(1.91,-2.80),(2.28,-2.80),(2.54,-3.00),(2.90,-3.06),(3.27,-2.74),(3.58,-2.43),(3.89,-2.64),(4.31,-2.33),(4.72,-2.22),(5.04,-2.12),(5.45,-2.07),(5.61,-1.76),(5.87,-1.55),(6.29,-0.98)]
P8_NS = [(0.58,-2.56),(0.93,-2.71),(0.98,-2.48),(1.19,-1.55),(1.24,-1.76),(1.05,-2.09),(1.14,-2.30),(1.31,-2.43),(1.46,-3.12),(1.60,-2.61),(1.81,-2.69),(2.12,-2.61),(2.38,-2.43),(2.90,-2.31),(3.92,-2.19),(4.38,-2.33),(5.66,-1.63),(6.23,-1.50),(6.18,-1.16),(8.24,-1.43),(9.37,-1.37),(11.96,0.0),(9.09,-0.15),(9.66,0.08),(8.76,0.34),(8.47,0.81),(8.42,0.61),(8.12,0.77),(7.95,0.63),(8.16,0.50),(8.37,0.20),(8.16,-0.21),(7.79,-0.38),(0.76,2.30),(1.03,2.40),(0.98,2.17),(0.94,2.71),(0.98,2.79),(1.23,2.92),(1.39,3.05),(1.71,3.27),(2.12,3.31),(1.76,2.56),(1.36,2.64),(2.07,2.56),(2.41,2.53),(2.64,2.30),(3.48,2.10),(3.27,2.07),(4.08,1.78),(4.28,1.57),(4.72,1.54),(5.04,1.31),(5.45,1.21),(6.02,1.17),(1.56,-0.56),(1.36,1.10),(1.24,1.67),(1.29,1.41),(1.24,-1.44),(1.45,-1.13),
(1.34,2.09),(1.65,2.35),(2.12,2.19),(2.54,2.14),(2.96,1.93),(3.48,1.78),(4.00,1.57),(4.52,1.36),(5.04,1.15),(5.56,0.95),(6.08,0.84),(6.60,0.69),(7.12,0.53),(7.74,0.43),(8.05,0.32),(7.95,-0.09),(7.43,-0.41),(6.86,-0.67),(6.29,-0.98),(5.76,-1.34),(5.24,-1.60),(4.62,-1.81),(4.00,-1.86),(3.37,-1.91),(2.75,-2.12),(2.33,-2.43),(1.81,-2.64),(1.45,-2.43),(1.29,-1.44),(1.50,-1.03),(1.65,-0.72),(1.76,-0.20),(1.60,0.63),(1.45,1.15),(1.29,1.57)]
P8_NS_CLOUD = [(1.19,1.88),(1.39,2.30),(1.91,2.35),(2.75,1.99),(3.58,1.73),(4.41,1.36),(5.24,1.05),(6.08,0.84),(6.91,0.53),(8.05,0.37),(8.05,0.01),(7.64,-0.30),(7.01,-0.61),(6.39,-0.93),(5.76,-1.29),(4.93,-1.66),(4.10,-1.92),(3.27,-2.07),(2.43,-2.38),(1.91,-2.64),(1.39,-2.48),(1.34,-1.96),(1.60,-1.34),(1.76,-0.72),(1.81,-0.09),(1.60,0.53),(1.39,1.15)]
P8_SIG_CLOUDS = [[(1.29,-2.59),(2.23,-2.38),(3.27,-2.07),(4.31,-1.86),(5.35,-1.44),(5.87,-1.34),(5.56,-2.07),(4.93,-2.17),(4.10,-2.48),(3.48,-2.69),(3.06,-3.00),(2.43,-3.06),(1.50,-2.90)]]
P8_FIT = [(0.44,0.34),(0.98,0.22),(1.60,0.09),(2.23,0.03),(3.27,0.0),(5.35,-0.02),(7.43,-0.01),(8.99,0.03),(10.55,0.05),(11.98,0.08)]
P8_CI = [(0.44,0.22,0.48),(0.98,0.14,0.30),(1.60,0.05,0.11),(3.27,-0.02,0.02),(7.43,-0.03,0.01),(8.47,-0.09,0.11),(9.51,-0.22,0.27),(10.55,-0.34,0.43),(11.98,-0.48,0.67)]

SIG = [P1_SIG, P2_SIG, P3_SIG, P4_SIG, P5_SIG, P6_SIG, P7_SIG, P8_SIG]
NS = [P1_NS, P2_NS, P3_NS, P4_NS, P5_NS, P6_NS, P7_NS, P8_NS]
NS_CLOUD = [P1_NS_CLOUD, P2_NS_CLOUD, P3_NS_CLOUD, P4_NS_CLOUD, P5_NS_CLOUD, P6_NS_CLOUD, P7_NS_CLOUD, P8_NS_CLOUD]
SIG_CLOUDS = [P1_SIG_CLOUDS, P2_SIG_CLOUDS, P3_SIG_CLOUDS, P4_SIG_CLOUDS, P5_SIG_CLOUDS, P6_SIG_CLOUDS, P7_SIG_CLOUDS, P8_SIG_CLOUDS]
FIT = [P1_FIT, P2_FIT, P3_FIT, P4_FIT, P5_FIT, P6_FIT, P7_FIT, P8_FIT]
CI = [P1_CI, P2_CI, P3_CI, P4_CI, P5_CI, P6_CI, P7_CI, P8_CI]

# plot boxes in figure pixels: left, right, top, bottom
W, H = 1962, 1062
BOXES = [(48, 467.5, 74, 494.5), (544, 963, 73.5, 494.5), (1037, 1456, 75, 495.5), (1539, 1958, 74, 494.5),
         (47.5, 466.5, 589.5, 1010.5), (544, 963, 589, 1009.5), (1039, 1461, 587, 1010), (1536, 1959, 586.5, 1011)]
# label offsets in pixels, per panel
TITLE_DX = [0, -3, -4, -6, -5.5, 2, 1, -4.5]
XTITLE_DX = [14, 12.5, 4.5, 0, 2.5, 2.5, -2, -2]
XTITLE_DY = [38, 38, 37, 38, 36, 38, 38, 38]
YTITLE_DX = [36, 42, 35, 33.5, 35.5, 36.5, 37, 38.5]

fig = go.Figure()
layout_axes = {}
annotations = []
FONT = dict(size=20.3, color="#1a1a1a")
XTICK_FONT = dict(size=19, color="#1a1a1a")
YTICK_FONT = dict(size=20, color="#1a1a1a")


def cloud(rows, color, ax):
    xs = [r[0] for r in rows] + [rows[0][0]]
    ys = [r[1] for r in rows] + [rows[0][1]]
    fig.add_trace(go.Scatter(x=xs, y=ys, mode="lines+markers", fill="toself", fillcolor=color,
                             line=dict(color=color, width=3), marker=dict(color=color, size=DOT),
                             xaxis=ax[0], yaxis=ax[1], showlegend=False, hoverinfo="skip"))


for i in range(8):
    sfx = "" if i == 0 else str(i + 1)
    ax = ("x" + sfx, "y" + sfx)
    xd, yd = "x" + sfx + " domain", "y" + sfx + " domain"
    left, right, top, bottom = BOXES[i]
    for rows in SIG_CLOUDS[i]:
        cloud(rows, RED, ax)
    fig.add_trace(go.Scatter(x=[r[0] for r in SIG[i]], y=[r[1] for r in SIG[i]], mode="markers",
                             marker=dict(color=RED, size=DOT), name="significant (FDR < 0.10)",
                             xaxis=ax[0], yaxis=ax[1], showlegend=(i == 0)))
    cloud(NS_CLOUD[i], BLACK, ax)
    fig.add_trace(go.Scatter(x=[r[0] for r in NS[i]], y=[r[1] for r in NS[i]], mode="markers",
                             marker=dict(color=BLACK, size=DOT), name="n.s.",
                             xaxis=ax[0], yaxis=ax[1], showlegend=(i == 0)))
    ci = CI[i]
    fig.add_trace(go.Scatter(x=[r[0] for r in ci] + [r[0] for r in ci[::-1]],
                             y=[r[2] for r in ci] + [r[1] for r in ci[::-1]],
                             mode="lines", fill="toself", fillcolor="rgba(153,153,153,0.4)",
                             line=dict(width=0), xaxis=ax[0], yaxis=ax[1], showlegend=False, hoverinfo="skip"))
    fig.add_trace(go.Scatter(x=[r[0] for r in FIT[i]], y=[r[1] for r in FIT[i]], mode="lines",
                             line=dict(color=BLUE, width=3.6, shape="spline", smoothing=0.8),
                             xaxis=ax[0], yaxis=ax[1], showlegend=False, hoverinfo="skip"))
    common = dict(showgrid=False, showline=True, mirror=True, linecolor="#333333", linewidth=1.6,
                  ticks="outside", ticklen=4, tickwidth=1.2, tickcolor="#333333")
    layout_axes["xaxis" + sfx] = dict(common, domain=[left / W, right / W], range=list(XRANGES[i]), tickfont=XTICK_FONT,
                                      tickmode="array", tickvals=XTICKS[i], zeroline=False, ticklabelstandoff=-9,
                                      anchor=ax[1])
    layout_axes["yaxis" + sfx] = dict(common, domain=[1 - bottom / H, 1 - top / H], range=list(YRANGES[i]), tickfont=YTICK_FONT,
                                      tickmode="array", tickvals=YTICKS[i], zeroline=True, zerolinecolor="#111111",
                                      zerolinewidth=2, anchor=ax[0])
    annotations.append(dict(text=TITLES[i], xref=xd, yref=yd, x=0.5, y=1.0, xshift=TITLE_DX[i],
                            yshift=4, xanchor="center", yanchor="bottom", showarrow=False, font=FONT))
    annotations.append(dict(text=XTITLES[i], xref=xd, yref=yd, x=0.5, y=0, xshift=XTITLE_DX[i], yshift=-XTITLE_DY[i],
                            xanchor="center", yanchor="middle", showarrow=False, font=FONT))
    annotations.append(dict(text=YTITLE, xref=xd, yref=yd, x=0, y=0.5, xshift=-YTITLE_DX[i], textangle=-90,
                            xanchor="center", yanchor="middle", showarrow=False, font=FONT))

annotations.append(dict(text=LEGEND_TITLE, xref="paper", yref="paper", x=642 / W, y=1 - 11 / H, xanchor="left",
                        yanchor="middle", showarrow=False, font=FONT))

fig.update_layout(width=W, height=H, margin=dict(l=0, r=0, t=0, b=0, autoexpand=False),
                  paper_bgcolor="white", plot_bgcolor="white",
                  font=dict(family="Liberation Sans, Arial, sans-serif", color="#1a1a1a"),
                  annotations=annotations,
                  legend=dict(orientation="h", x=1031 / W, y=1.008, xanchor="left", yanchor="top",
                              font=FONT, bgcolor="rgba(0,0,0,0)", itemsizing="trace"),
                  **layout_axes)
fig.write_html("out.html", post_script="document.body.style.margin='0';", config={"displayModeBar": False})
